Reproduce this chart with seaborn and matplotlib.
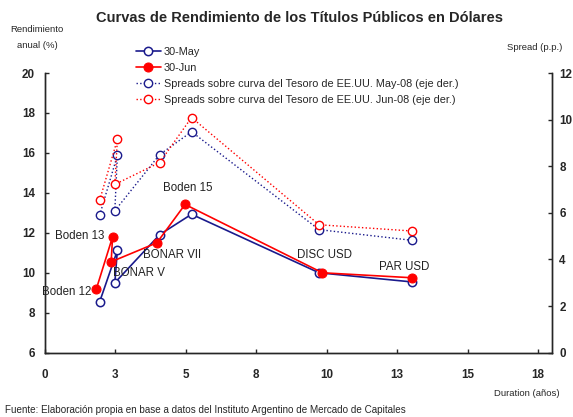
import matplotlib
matplotlib.use("Agg")
import matplotlib.pyplot as plt
import seaborn as sns
import pandas as pd

# Datos
bonos = ["Boden 12", "Boden 13", "BONAR V", "BONAR VII", "Boden 15", "DISC USD", "PAR USD"]
dur_may = [1.95, 2.58, 2.49, 4.08, 5.21, 9.73, 13.04]
dur_jun = [1.83, 2.41, 2.36, 3.98, 4.98, 9.85, 13.04]
tir_may = [8.54, 11.12, 9.50, 11.91, 12.93, 10.00, 9.54]
tir_jun = [9.17, 11.80, 10.55, 11.50, 13.42, 10.00, 9.75]
spread_may = [5.89, 8.47, 6.09, 8.50, 9.48, 5.28, 4.82]
spread_jun = [6.53, 9.15, 7.22, 8.16, 10.09, 5.49, 5.22]

x_ticks = [0, 2.5, 5, 7.5, 10, 12.5, 15, 17.5]
x_labels = ["0", "3", "5", "8", "10", "13", "15", "18"]

# posiciones de las etiquetas de cada bono (centro del texto)
lbl_x = [0.77, 1.23, 3.33, 4.52, 5.07, 9.94, 12.75]
lbl_y = [9.02, 11.83, 10.0, 10.89, 14.24, 10.88, 10.3]

df_may = pd.DataFrame({"dur": dur_may, "tir": tir_may, "spread": spread_may})
df_jun = pd.DataFrame({"dur": dur_jun, "tir": tir_jun})
df_spread_jun = pd.DataFrame({"dur": dur_may, "spread": spread_jun})

sns.set_style("ticks")
plt.rcParams["font.family"] = ["Liberation Sans", "DejaVu Sans"]

AZUL = "#1a1a8c"
ROJO = "#ff0000"

fig = plt.figure(figsize=(5.73, 4.17), dpi=100)
ax = fig.add_axes([44.6/573, 1-352.7/417, (552.3-44.6)/573, (352.7-73)/417])
ax2 = ax.twinx()

sns.lineplot(data=df_may, x="dur", y="tir", sort=False, ax=ax, color=AZUL, linewidth=1.2,
             marker="o", markersize=6, markerfacecolor="white", markeredgecolor=AZUL,
             markeredgewidth=1.1, label="30-May")
sns.lineplot(data=df_jun, x="dur", y="tir", sort=False, ax=ax, color=ROJO, linewidth=1.2,
             marker="o", markersize=6.5, markerfacecolor=ROJO, markeredgecolor=ROJO,
             label="30-Jun")
sns.lineplot(data=df_may, x="dur", y="spread", sort=False, ax=ax2, color=AZUL, linewidth=1.0,
             linestyle=":", marker="o", markersize=6, markerfacecolor="white",
             markeredgecolor=AZUL, markeredgewidth=1.0,
             label="Spreads sobre curva del Tesoro de EE.UU. May-08 (eje der.)")
sns.lineplot(data=df_spread_jun, x="dur", y="spread", sort=False, ax=ax2,
             color=ROJO, linewidth=1.0, linestyle=":", marker="o", markersize=6,
             markerfacecolor="white", markeredgecolor=ROJO, markeredgewidth=1.0,
             label="Spreads sobre curva del Tesoro de EE.UU. Jun-08 (eje der.)")

h1, l1 = ax.get_legend_handles_labels()
h2, l2 = ax2.get_legend_handles_labels()
ax.get_legend().remove()
ax2.get_legend().remove()
fig.legend(h1 + h2, l1 + l2, loc="upper left", bbox_to_anchor=(136/573, 1-47/417),
           frameon=False, fontsize=7.8, handlelength=2.3, labelspacing=0.55,
           handletextpad=0.25, borderaxespad=0, borderpad=0)

for nombre, xx, yy in zip(bonos, lbl_x, lbl_y):
    ax.text(xx, yy, nombre, ha="center", va="center", fontsize=8.3, color="#222222")

ax.set_xlim(0, 18)
ax.set_ylim(6, 20)
ax2.set_ylim(0, 12)
ax.set_xticks(x_ticks)
ax.set_xticklabels(x_labels)
ax.set_yticks(range(6, 21, 2))
ax2.set_yticks(range(0, 13, 2))
ax.set_xlabel("")
ax.set_ylabel("")
ax2.set_ylabel("")

for a in (ax, ax2):
    a.spines["top"].set_visible(False)
    for s in a.spines.values():
        s.set_linewidth(1.0)
    a.tick_params(direction="in", length=3, width=1, labelsize=8.4)
    for t in a.get_xticklabels() + a.get_yticklabels():
        t.set_fontweight("bold")
ax.tick_params(axis="x", pad=12)
ax.tick_params(axis="y", pad=7)
ax2.tick_params(axis="y", pad=5)

fig.text(300/573, 1-18/417, "Curvas de Rendimiento de los Títulos Públicos en Dólares",
         ha="center", va="center", fontsize=10.5, fontweight="bold")
fig.text(37/573, 1-38/417, "Rendimiento\nanual (%)", ha="center", va="center",
         fontsize=6.8, linespacing=2.0)
fig.text(535/573, 1-47/417, "Spread (p.p.)", ha="center", va="center", fontsize=6.8)
fig.text(527/573, 1-393/417, "Duration (años)", ha="center", va="center", fontsize=6.8)
fig.text(5/573, 1-410/417, "Fuente: Elaboración propia en base a datos del Instituto Argentino de Mercado de Capitales",
         ha="left", va="center", fontsize=7.1)

fig.savefig("out.png", dpi=100)
